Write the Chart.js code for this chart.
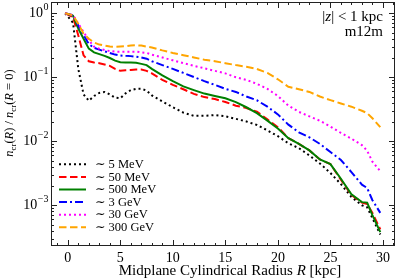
<!DOCTYPE html>
<html><head><meta charset="utf-8">
<script src="https://cdn.jsdelivr.net/npm/chart.js@4/dist/chart.umd.min.js"></script>
<style>html,body{margin:0;padding:0;background:#fff}canvas{display:block}</style>
</head><body>
<canvas id="c" width="399" height="279" style="width:399px;height:279px"></canvas>
<script>
// ---- data ----
const radius = [-0.25, 0.5, 1, 1.5, 2, 2.5, 3, 3.5, 4, 4.5, 5, 5.5, 6, 6.5, 7, 7.5, 8, 9, 10, 11, 12, 13, 14, 15, 16, 17, 18, 19, 20, 21, 22, 23, 24, 25, 26, 27, 28, 28.5, 29, 29.75];
const mev5   = [1.0, 0.71, 0.135, 0.054, 0.043, 0.051, 0.057, 0.059, 0.054, 0.048, 0.047, 0.056, 0.063, 0.066, 0.066, 0.062, 0.052, 0.042, 0.034, 0.028, 0.025, 0.025, 0.0257, 0.0245, 0.0224, 0.0204, 0.018, 0.0148, 0.012, 0.0093, 0.0078, 0.006, 0.0045, 0.0032, 0.00214, 0.00135, 0.001, 0.00093, 0.00063, 0.00035];
const mev50  = [1.0, 0.87, 0.45, 0.22, 0.178, 0.17, 0.166, 0.158, 0.151, 0.135, 0.126, 0.129, 0.13, 0.132, 0.132, 0.126, 0.115, 0.091, 0.076, 0.065, 0.055, 0.049, 0.0457, 0.041, 0.036, 0.033, 0.029, 0.022, 0.0166, 0.0112, 0.0091, 0.0072, 0.0052, 0.0044, 0.0025, 0.00145, 0.0011, 0.00105, 0.00076, 0.00042];
const mev500 = [1.0, 0.91, 0.575, 0.40, 0.28, 0.245, 0.23, 0.216, 0.2, 0.182, 0.172, 0.17, 0.17, 0.168, 0.162, 0.155, 0.135, 0.107, 0.087, 0.072, 0.063, 0.0556, 0.051, 0.047, 0.041, 0.034, 0.0275, 0.021, 0.0158, 0.0112, 0.0091, 0.0072, 0.0052, 0.0044, 0.0026, 0.00148, 0.00112, 0.0011, 0.0007, 0.00038];
const gev3   = [1.0, 0.93, 0.645, 0.457, 0.33, 0.288, 0.27, 0.254, 0.24, 0.226, 0.219, 0.216, 0.214, 0.209, 0.204, 0.195, 0.178, 0.155, 0.135, 0.117, 0.101, 0.087, 0.076, 0.066, 0.059, 0.050, 0.0437, 0.0347, 0.0263, 0.0182, 0.0138, 0.0115, 0.0091, 0.0068, 0.0051, 0.0033, 0.0021, 0.00186, 0.0012, 0.00076];
const gev30  = [1.0, 0.93, 0.69, 0.51, 0.38, 0.30, 0.279, 0.266, 0.257, 0.251, 0.251, 0.251, 0.251, 0.251, 0.245, 0.24, 0.226, 0.204, 0.184, 0.166, 0.151, 0.138, 0.126, 0.115, 0.1, 0.091, 0.079, 0.066, 0.051, 0.036, 0.0288, 0.0245, 0.0209, 0.017, 0.0135, 0.011, 0.0087, 0.0071, 0.0048, 0.0034];
const gev300 = [1.0, 0.93, 0.68, 0.48, 0.40, 0.35, 0.324, 0.313, 0.302, 0.30, 0.302, 0.305, 0.313, 0.316, 0.313, 0.302, 0.292, 0.263, 0.24, 0.221, 0.204, 0.188, 0.178, 0.166, 0.155, 0.146, 0.135, 0.117, 0.093, 0.071, 0.065, 0.059, 0.050, 0.044, 0.039, 0.0347, 0.030, 0.0275, 0.0229, 0.0166];
const seriesLabels = ['∼ 5 MeV', '∼ 50 MeV', '∼ 500 MeV', '∼ 3 GeV', '∼ 30 GeV', '∼ 300 GeV'];
const xTickValues = [0, 5, 10, 15, 20, 25, 30];
const yTickExponents = [0, -1, -2, -3];
const cornerLines = ['|z| < 1 kpc', 'm12m'];

// ---- styles ----
const FONT = '"Liberation Serif", "DejaVu Serif", serif';
const colors = ['#000000', '#ff0000', '#008000', '#0000ff', '#ff00ff', '#ffa500'];
const dashes = [[2, 3], [7.5, 3.5], [], [8, 3, 2, 3], [2, 3], [7.5, 3.5]];
const seriesValues = [mev5, mev50, mev500, gev3, gev30, gev300];

const datasets = seriesValues.map((vals, i) => ({
  label: seriesLabels[i],
  data: radius.map((r, k) => ({x: r, y: vals[k]})),
  borderColor: colors[i],
  backgroundColor: colors[i],
  borderWidth: 2,
  borderDash: dashes[i],
  pointRadius: 0,
  tension: 0,
  fill: false,
  order: 5 - i
}));

function drawRuns(ctx, runs, x, y, align, size) {
  const fonts = runs.map(r => (r.it ? 'italic ' : '') + (r.sub ? size * 0.7 : size) + 'px ' + FONT);
  const widths = runs.map((r, i) => { ctx.font = fonts[i]; return ctx.measureText(r.t).width; });
  const total = widths.reduce((a, b) => a + b, 0);
  let cx = align === 'center' ? x - total / 2 : (align === 'right' ? x - total : x);
  ctx.textAlign = 'left';
  ctx.textBaseline = 'alphabetic';
  runs.forEach((r, i) => {
    ctx.font = fonts[i];
    ctx.fillText(r.t, cx, y + (r.sub ? size * 0.25 : 0));
    cx += widths[i];
  });
}

const decor = {
  id: 'decor',
  afterDraw(chart) {
    const ctx = chart.ctx, a = chart.chartArea, xs = chart.scales.x, ys = chart.scales.y;
    ctx.save();
    ctx.strokeStyle = '#222';
    ctx.lineWidth = 1;
    ctx.strokeRect(a.left + 0.5, a.top + 0.5, a.right - a.left - 1, a.bottom - a.top - 1);
    ctx.beginPath();
    for (let v = Math.ceil(xs.min); v <= xs.max; v++) {
      const major = xTickValues.includes(v);
      const L = major ? 6 : 3;
      const px = Math.round(xs.getPixelForValue(v)) + 0.5;
      ctx.moveTo(px, a.bottom); ctx.lineTo(px, a.bottom - L);
      ctx.moveTo(px, a.top); ctx.lineTo(px, a.top + L);
    }
    for (let e = -4; e <= 0; e++) {
      for (let m = 1; m <= 9; m++) {
        const v = m * Math.pow(10, e);
        if (v < ys.min || v > ys.max) continue;
        const L = m === 1 ? 6 : 3;
        const py = Math.round(ys.getPixelForValue(v)) + 0.5;
        ctx.moveTo(a.left, py); ctx.lineTo(a.left + L, py);
        ctx.moveTo(a.right, py); ctx.lineTo(a.right - L, py);
      }
    }
    ctx.stroke();

    // y tick labels 10^n
    ctx.fillStyle = '#000';
    yTickExponents.forEach(e => {
      const py = ys.getPixelForValue(Math.pow(10, e));
      const exp = e === 0 ? '0' : '\u2212' + Math.abs(e);
      ctx.font = '10px ' + FONT;
      const ew = ctx.measureText(exp).width;
      ctx.textAlign = 'right';
      ctx.textBaseline = 'middle';
      const xr = a.left - 2.5;
      ctx.fillText(exp, xr, py - 5.5);
      ctx.font = '14px ' + FONT;
      ctx.fillText('10', xr - ew - 0.5, py + 0.5);
    });

    // axis titles
    drawRuns(ctx, [{t: 'Midplane Cylindrical Radius '}, {t: 'R', it: true}, {t: ' [kpc]'}], 230, 274.5, 'center', 15);
    ctx.save();
    ctx.translate(13, 113);
    ctx.rotate(-Math.PI / 2);
    drawRuns(ctx, [{t: 'n', it: true}, {t: 'cr', sub: true}, {t: '('}, {t: 'R', it: true}, {t: ') / '},
                   {t: 'n', it: true}, {t: 'cr', sub: true}, {t: '('}, {t: 'R', it: true}, {t: ' = 0)'}], 0, 0, 'center', 12.5);
    ctx.restore();

    // corner annotation
    drawRuns(ctx, [{t: '|'}, {t: 'z', it: true}, {t: '| < 1 kpc'}], 383, 20.5, 'right', 15);
    drawRuns(ctx, [{t: cornerLines[1]}], 383, 36, 'right', 15);

    // legend
    chart.data.datasets.forEach((ds, i) => {
      const y = 164.3 + 12.6 * i;
      ctx.beginPath();
      ctx.strokeStyle = ds.borderColor;
      ctx.lineWidth = 2;
      ctx.setLineDash(ds.borderDash);
      ctx.moveTo(59, y); ctx.lineTo(86, y);
      ctx.stroke();
      ctx.setLineDash([]);
      ctx.fillStyle = '#000';
      ctx.font = '12.5px ' + FONT;
      ctx.textAlign = 'left';
      ctx.textBaseline = 'middle';
      ctx.fillText(ds.label, 95, y + 0.5);
    });
    ctx.restore();
  }
};

new Chart(document.getElementById('c'), {
  type: 'line',
  data: {datasets},
  options: {
    responsive: false,
    animation: false,
    devicePixelRatio: 1,
    layout: {padding: {top: 2, right: 4, left: 0, bottom: 0}},
    plugins: {legend: {display: false}, tooltip: {enabled: false}},
    scales: {
      x: {
        type: 'linear', min: -1.6, max: 31.15,
        grid: {display: false, drawTicks: false},
        border: {display: false},
        afterBuildTicks: s => { s.ticks = xTickValues.map(v => ({value: v})); },
        afterFit: s => { s.height = 33; },
        ticks: {color: '#000', font: {family: FONT, size: 14}, padding: 4, maxRotation: 0, autoSkip: false}
      },
      y: {
        type: 'logarithmic', min: 2.31e-4, max: 1.5,
        grid: {display: false, drawTicks: false},
        border: {display: false},
        afterBuildTicks: s => { s.ticks = yTickExponents.map(e => ({value: Math.pow(10, e)})); },
        afterFit: s => { s.width = 51; },
        ticks: {display: false}
      }
    }
  },
  plugins: [decor]
});
</script>
</body></html>
